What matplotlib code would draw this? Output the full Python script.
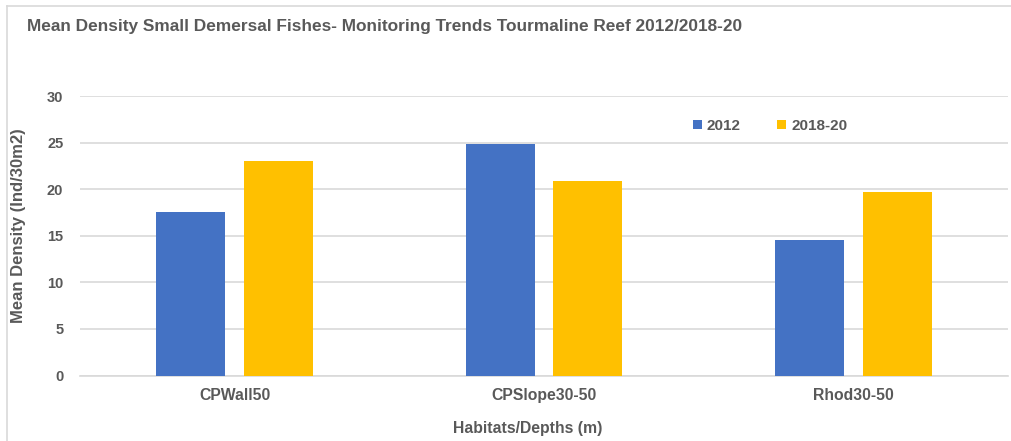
import matplotlib
matplotlib.use("Agg")
import matplotlib.pyplot as plt
import numpy as np
from matplotlib.lines import Line2D

# Data
habitats = ["CPWall50", "CPSlope30-50", "Rhod30-50"]
series_names = ["2012", "2018-20"]
density_2012 = [17.5, 24.9, 14.5]
density_2018_20 = [23.0, 20.9, 19.7]
y_ticks = [0, 5, 10, 15, 20, 25, 30]

colors = ["#4472C4", "#FFC000"]
text_color = "#595959"
grid_color = "#D9D9D9"

plt.rcParams["font.family"] = ["Liberation Sans", "DejaVu Sans"]

W, H = 1011, 441
fig = plt.figure(figsize=(W / 100, H / 100), dpi=100)

def px(x0, y0, x1, y1):
    # convert pixel box (top-left origin) to figure fraction rect
    return [x0 / W, 1 - y1 / H, (x1 - x0) / W, (y1 - y0) / H]

# chart frame (top and left edges)
fig.add_artist(Line2D([7 / W, 1.0], [1 - 6 / H, 1 - 6 / H], transform=fig.transFigure,
                      color="#D9D9D9", linewidth=1.2))
fig.add_artist(Line2D([7 / W, 7 / W], [0.0, 1 - 6 / H], transform=fig.transFigure,
                      color="#D9D9D9", linewidth=1.2))

ax = fig.add_axes(px(80, 96, 1008, 375.5))
x = np.arange(len(habitats))
width = 0.223
offset = 0.142
ax.bar(x - offset, density_2012, width, color=colors[0], label=series_names[0], zorder=3)
ax.bar(x + offset, density_2018_20, width, color=colors[1], label=series_names[1], zorder=3)

ax.set_xlim(-0.5, len(habitats) - 0.5)
ax.set_ylim(0, 30)
ax.set_yticks(y_ticks)
ax.set_yticklabels([str(t) for t in y_ticks], fontsize=10.5, fontweight="bold", color=text_color)
ax.set_xticks(x)
ax.set_xticklabels(habitats, fontsize=11.3, fontweight="bold", color=text_color)
ax.tick_params(axis="both", length=0)
ax.tick_params(axis="y", pad=12)
ax.tick_params(axis="x", pad=9)
ax.yaxis.grid(True, color=grid_color, linewidth=1.2, zorder=0)
ax.set_axisbelow(True)
for side in ["top", "right", "left"]:
    ax.spines[side].set_visible(False)
ax.spines["bottom"].set_color(grid_color)
ax.spines["bottom"].set_linewidth(1.2)

fig.text(27 / W, 1 - 27 / H,
         "Mean Density Small Demersal Fishes- Monitoring Trends Tourmaline Reef 2012/2018-20",
         fontsize=12.4, fontweight="bold", color=text_color, ha="left", va="center")
fig.text(19 / W, 1 - 226 / H, "Mean Density (Ind/30m2)", rotation=90,
         fontsize=12, fontweight="bold", color=text_color, ha="center", va="center")
fig.text(528 / W, 1 - 429 / H, "Habitats/Depths (m)",
         fontsize=11.3, fontweight="bold", color=text_color, ha="center", va="center")

leg = ax.legend(loc="center", bbox_to_anchor=((770 - 80) / 928, (375.5 - 126) / 279.5),
                ncol=2, frameon=False, fontsize=11, handlelength=0.6, handleheight=0.6,
                handletextpad=0.3, columnspacing=2.4)
for t in leg.get_texts():
    t.set_color(text_color)
    t.set_fontweight("bold")

fig.savefig("out.png", dpi=100)
